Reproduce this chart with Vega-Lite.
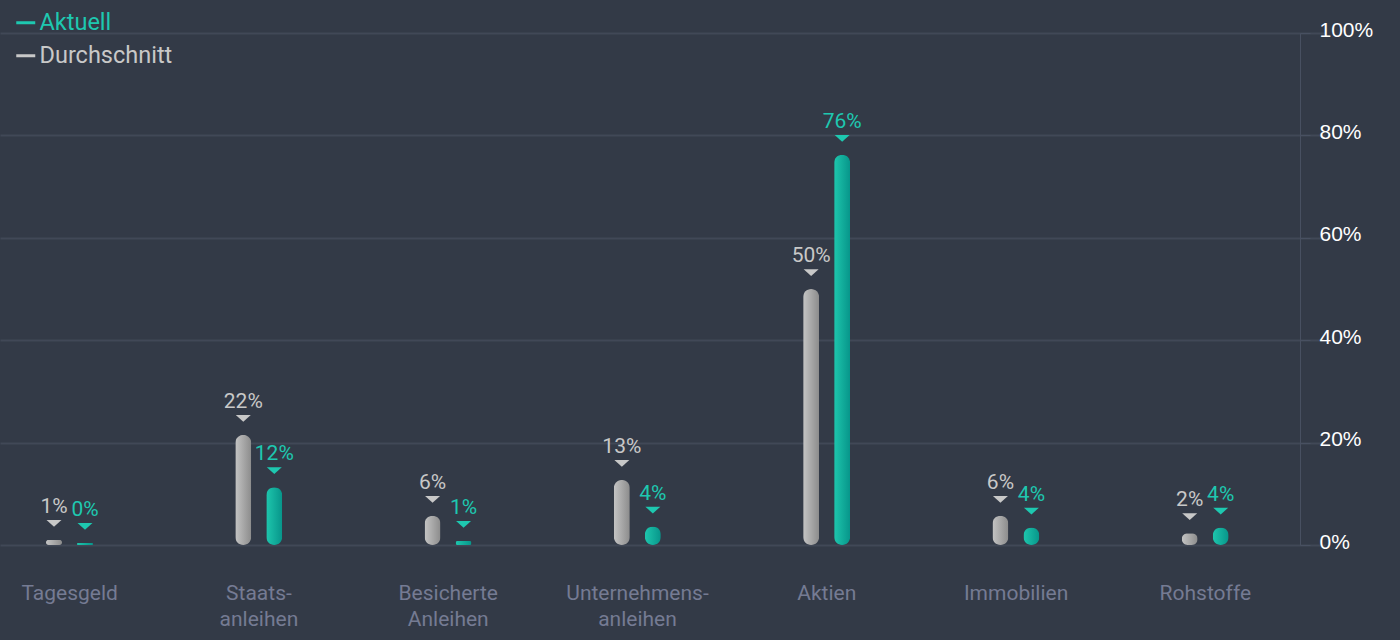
{
  "$schema": "https://vega.github.io/schema/vega-lite/v6.json",
  "autosize": "none",
  "width": 1300,
  "height": 512,
  "padding": {"left": 0, "top": 33, "right": 100, "bottom": 95},
  "background": "#333a47",
  "config": {
    "view": {"stroke": null},
    "font": "Roboto"
  },
  "data": {
    "values": [
      {"cat": "Tagesgeld", "series": "Durchschnitt", "value": 1.0, "label": "1%"},
      {"cat": "Tagesgeld", "series": "Aktuell", "value": 0.4, "label": "0%"},
      {"cat": "Staats-|anleihen", "series": "Durchschnitt", "value": 21.5, "label": "22%"},
      {"cat": "Staats-|anleihen", "series": "Aktuell", "value": 11.3, "label": "12%"},
      {"cat": "Besicherte|Anleihen", "series": "Durchschnitt", "value": 5.7, "label": "6%"},
      {"cat": "Besicherte|Anleihen", "series": "Aktuell", "value": 0.8, "label": "1%"},
      {"cat": "Unternehmens-|anleihen", "series": "Durchschnitt", "value": 12.7, "label": "13%"},
      {"cat": "Unternehmens-|anleihen", "series": "Aktuell", "value": 3.6, "label": "4%"},
      {"cat": "Aktien", "series": "Durchschnitt", "value": 50.0, "label": "50%"},
      {"cat": "Aktien", "series": "Aktuell", "value": 76.2, "label": "76%"},
      {"cat": "Immobilien", "series": "Durchschnitt", "value": 5.7, "label": "6%"},
      {"cat": "Immobilien", "series": "Aktuell", "value": 3.4, "label": "4%"},
      {"cat": "Rohstoffe", "series": "Durchschnitt", "value": 2.3, "label": "2%"},
      {"cat": "Rohstoffe", "series": "Aktuell", "value": 3.4, "label": "4%"}
    ]
  },
  "encoding": {
    "x": {
      "field": "cat",
      "type": "nominal",
      "sort": null,
      "scale": {"range": [-25, 1300], "paddingInner": 0, "paddingOuter": 0},
      "axis": {
        "title": null,
        "domain": false,
        "ticks": false,
        "grid": false,
        "labelAngle": 0,
        "labelExpr": "split(datum.label, '|')",
        "labelFont": "Roboto",
        "labelFontSize": 21,
        "labelColor": "#757b93",
        "labelPadding": 37,
        "labelBaseline": "top",
        "labelLineHeight": 26
      }
    },
    "xOffset": {
      "field": "series",
      "type": "nominal",
      "scale": {"domain": ["Durchschnitt", "Aktuell"], "range": [63.5, 125.5], "paddingInner": 0, "paddingOuter": 0}
    },
    "y": {
      "field": "value",
      "type": "quantitative",
      "scale": {"domain": [0, 100], "nice": false},
      "axis": {
        "title": null,
        "orient": "right",
        "values": [0, 20, 40, 60, 80, 100],
        "labelExpr": "datum.value + '%'",
        "labelFont": "Liberation Sans",
        "labelFontSize": 21,
        "labelColor": "#ffffff",
        "labelPadding": 9,
        "labelOffset": -3,
        "tickSize": 10,
        "tickColor": "#485061",
        "domainColor": "#485061",
        "grid": true,
        "gridColor": "#414857",
        "gridWidth": 2
      }
    }
  },
  "layer": [
    {
      "transform": [{"filter": "datum.series === 'Durchschnitt'"}],
      "mark": {
        "type": "bar",
        "width": 16,
        "cornerRadius": 8,
        "color": {
          "gradient": "linear", "x1": 0, "y1": 0, "x2": 1, "y2": 0,
          "stops": [{"offset": 0, "color": "#c4c4c4"}, {"offset": 1, "color": "#8c8c8c"}]
        }
      }
    },
    {
      "transform": [{"filter": "datum.series === 'Aktuell'"}],
      "mark": {
        "type": "bar",
        "width": 16,
        "cornerRadius": 8,
        "color": {
          "gradient": "linear", "x1": 0, "y1": 0, "x2": 1, "y2": 0,
          "stops": [{"offset": 0, "color": "#1ec6ad"}, {"offset": 1, "color": "#07958a"}]
        }
      }
    },
    {
      "mark": {
        "type": "point",
        "shape": "M-1,-2.65L1,-2.65L0,-1.75Z",
        "size": 225,
        "filled": true,
        "opacity": 1
      },
      "encoding": {
        "color": {
          "field": "series",
          "type": "nominal",
          "scale": {"domain": ["Aktuell", "Durchschnitt"], "range": ["#1ec8b0", "#c8c8c8"]}
        }
      }
    },
    {
      "mark": {
        "type": "text",
        "baseline": "alphabetic",
        "align": "center",
        "dy": -27,
        "font": "Roboto",
        "fontSize": 21
      },
      "encoding": {
        "text": {"field": "label"},
        "color": {
          "field": "series",
          "type": "nominal",
          "scale": {"domain": ["Aktuell", "Durchschnitt"], "range": ["#1ec8b0", "#c8c8c8"]},
          "legend": {
            "title": null,
            "orient": "none",
            "legendX": 14,
            "legendY": -22,
            "padding": 0,
            "symbolType": "stroke",
            "symbolSize": 361,
            "symbolStrokeWidth": 3,
            "symbolOpacity": 1,
            "labelFont": "Roboto",
            "labelFontSize": 23.5,
            "labelOffset": 2,
            "rowPadding": 8,
            "encode": {
              "symbols": {
                "update": {
                  "stroke": {"signal": "datum.value === 'Aktuell' ? '#1ec8b0' : '#c8c8c8'"},
                  "strokeWidth": {"value": 3},
                  "opacity": {"value": 1}
                }
              },
              "labels": {
                "update": {
                  "fill": {"signal": "datum.value === 'Aktuell' ? '#1ec8b0' : '#c8c8c8'"}
                }
              }
            }
          }
        }
      }
    }
  ]
}
